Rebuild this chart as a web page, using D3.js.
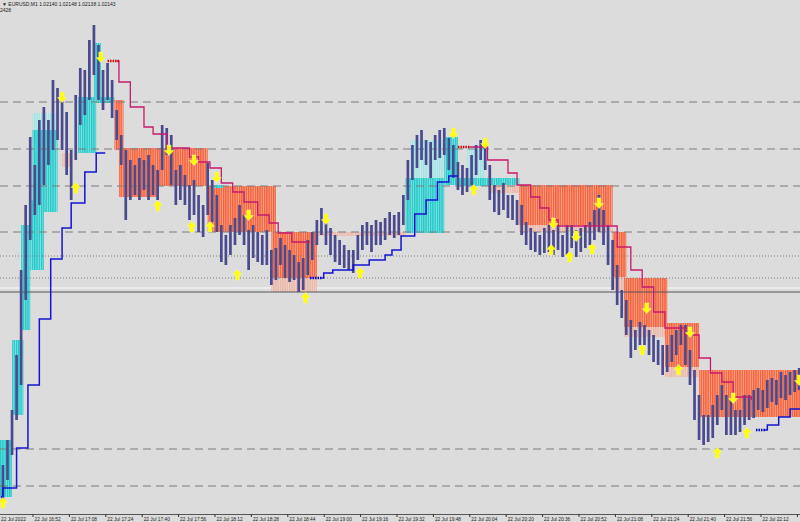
<!DOCTYPE html>
<html>
<head>
<meta charset="utf-8">
<script src="https://cdn.jsdelivr.net/npm/d3@7"></script>
<style>
body { margin: 0; background: #dcdcdc; }
svg { display: block; font-family: "Liberation Sans", Arial, sans-serif; }
</style>
</head>
<body>
<svg id="chart" width="800" height="522"></svg>
<script>
// EURUSD M1, 22 Jul 2022 -- bars shown every 2 minutes
const barStart = "16:39";
const barHigh = [
1.02063,1.02088,1.02118,1.02173,1.02258,1.02323,1.02391,1.02363,1.02408,1.02421,
1.02408,1.02448,1.02440,1.02433,1.02416,1.02378,1.02433,1.02460,1.02458,1.02488,
1.02503,1.02483,1.02458,1.02465,1.02448,1.02418,1.02393,1.02378,1.02368,1.02363,
1.02370,1.02368,1.02373,1.02363,1.02358,1.02403,1.02400,1.02393,1.02358,1.02363,
1.02353,1.02343,1.02348,1.02333,1.02323,1.02365,1.02348,1.02333,1.02303,1.02293,
1.02303,1.02310,1.02323,1.02313,1.02298,1.02303,1.02296,1.02293,1.02298,1.02278,
1.02280,1.02290,1.02283,1.02278,1.02273,1.02266,1.02270,1.02288,1.02296,1.02308,
1.02320,1.02313,1.02300,1.02293,1.02288,1.02283,1.02278,1.02278,1.02293,1.02303,
1.02306,1.02303,1.02308,1.02306,1.02310,1.02316,1.02313,1.02316,1.02333,1.02368,
1.02383,1.02393,1.02398,1.02388,1.02386,1.02393,1.02398,1.02400,1.02390,1.02383,
1.02366,1.02363,1.02360,1.02373,1.02383,1.02388,1.02385,1.02363,1.02343,1.02338,
1.02345,1.02333,1.02333,1.02328,1.02323,1.02306,1.02300,1.02296,1.02293,1.02300,
1.02303,1.02298,1.02303,1.02293,1.02303,1.02303,1.02298,1.02300,1.02303,1.02306,
1.02318,1.02333,1.02318,1.02303,1.02288,1.02263,1.02238,1.02228,1.02208,1.02198,
1.02206,1.02203,1.02198,1.02193,1.02188,1.02183,1.02183,1.02193,1.02198,1.02203,
1.02203,1.02178,1.02158,1.02133,1.02113,1.02113,1.02123,1.02133,1.02143,1.02133,
1.02128,1.02118,1.02118,1.02133,1.02133,1.02138,1.02140,1.02138,1.02148,1.02150,
1.02148,1.02156,1.02153,1.02156,1.02158,1.02160];
const barLow = [
1.02028,1.02048,1.02073,1.02108,1.02143,1.02228,1.02288,1.02313,1.02323,1.02343,
1.02363,1.02378,1.02388,1.02378,1.02353,1.02328,1.02368,1.02403,1.02413,1.02428,
1.02453,1.02428,1.02418,1.02428,1.02410,1.02388,1.02363,1.02308,1.02328,1.02333,
1.02328,1.02338,1.02328,1.02333,1.02328,1.02358,1.02373,1.02343,1.02323,1.02328,
1.02323,1.02308,1.02313,1.02296,1.02291,1.02313,1.02306,1.02296,1.02266,1.02263,
1.02273,1.02283,1.02293,1.02283,1.02258,1.02270,1.02266,1.02263,1.02263,1.02243,
1.02248,1.02263,1.02250,1.02246,1.02248,1.02236,1.02238,1.02253,1.02268,1.02283,
1.02293,1.02283,1.02273,1.02266,1.02263,1.02260,1.02258,1.02255,1.02268,1.02278,
1.02283,1.02276,1.02283,1.02283,1.02288,1.02293,1.02290,1.02293,1.02303,1.02328,
1.02348,1.02360,1.02368,1.02363,1.02350,1.02368,1.02370,1.02373,1.02358,1.02350,
1.02338,1.02333,1.02336,1.02343,1.02353,1.02368,1.02358,1.02328,1.02316,1.02313,
1.02318,1.02310,1.02308,1.02303,1.02293,1.02283,1.02278,1.02276,1.02273,1.02275,
1.02276,1.02273,1.02278,1.02271,1.02273,1.02280,1.02271,1.02276,1.02280,1.02283,
1.02288,1.02296,1.02283,1.02263,1.02238,1.02223,1.02210,1.02193,1.02170,1.02178,
1.02183,1.02183,1.02173,1.02166,1.02163,1.02153,1.02156,1.02166,1.02173,1.02183,
1.02163,1.02143,1.02108,1.02088,1.02083,1.02086,1.02090,1.02103,1.02118,1.02093,
1.02093,1.02093,1.02096,1.02103,1.02108,1.02110,1.02118,1.02116,1.02120,1.02126,
1.02123,1.02130,1.02128,1.02133,1.02136,1.02138];

const tickTimes = ["16:36","16:52","17:08","17:24","17:40","17:56","18:12","18:28","18:44","19:00","19:16","19:32",
  "19:48","20:04","20:20","20:36","20:52","21:08","21:24","21:40","21:56","22:12","22:28"];
// last tick sits on the right edge, its label is off the picture
const tickLabels = tickTimes.map((t, i) => i == 0 ? "22 Jul 2022" : i == tickTimes.length - 1 ? "" : "22 Jul " + t);

const dashedLevels = [1.02426, 1.02379, 1.02342, 1.02296, 1.02079, 1.02042];
const dottedLevels = [1.02272, 1.02250];
const solidLevel = 1.02236;
const lightLevel = 1.02240;

// boxes: from, to, top, bottom, kind
const boxes = [
  ["16:37","16:43",1.02088,1.02031,"up"],
  ["16:43","16:48",1.02188,1.02113,"up"],
  ["16:47","16:51",1.02303,1.02198,"up"],
  ["16:51","16:57",1.02328,1.02258,"up"],
  ["16:52","17:03",1.02398,1.02316,"up"],
  ["16:52","17:03",1.02415,1.02398,"upPale"],
  ["17:05","17:09",1.02375,1.02361,"downPale"],
  ["17:12","17:20",1.02431,1.02375,"up"],
  ["17:20","17:28",1.02431,1.02425,"up"],
  ["17:19","17:22",1.02485,1.02431,"up"],
  ["17:28","17:32",1.02428,1.02378,"down"],
  ["17:30","18:09",1.02380,1.02342,"down"],
  ["17:30","17:47",1.02342,1.02331,"down"],
  ["18:09","18:39",1.02342,1.02296,"down"],
  ["18:11","18:16",1.02343,1.02340,"up"],
  ["18:37","18:57",1.02296,1.02250,"down"],
  ["18:37","18:57",1.02250,1.02236,"downPale"],
  ["18:57","19:36",1.02296,1.02292,"downPale"],
  ["19:36","19:53",1.02350,1.02295,"up"],
  ["19:38","19:53",1.02388,1.02350,"upPale"],
  ["19:53","19:59",1.02391,1.02343,"up"],
  ["19:59","20:26",1.02350,1.02342,"up"],
  ["20:03","20:11",1.02381,1.02350,"upPale"],
  ["20:13","20:26",1.02343,1.02335,"downPale"],
  ["20:26","21:07",1.02343,1.02303,"down"],
  ["20:26","21:07",1.02303,1.02296,"downPale"],
  ["21:07","21:13",1.02296,1.02251,"down"],
  ["21:07","21:13",1.02251,1.02238,"downPale"],
  ["21:12","21:31",1.02250,1.02201,"down"],
  ["21:12","21:31",1.02201,1.02191,"downPale"],
  ["21:30","21:45",1.02205,1.02161,"down"],
  ["21:30","21:45",1.02161,1.02151,"downPale"],
  ["21:45","22:31",1.02158,1.02111,"down"]
];

// trailing stop lines (time, price) -- value holds until next point
const stopDown1 = [["17:29",1.02467],["17:30",1.02446],["17:35",1.02421],["17:41",1.02401],["17:45",1.02394],
  ["17:51",1.02380],["18:01",1.02371],["18:05",1.02366],["18:10",1.02360],["18:15",1.02345],["18:20",1.02336],
  ["18:25",1.02326],["18:31",1.02313],["18:36",1.02305],["18:40",1.02295],["18:46",1.02286],["18:54",1.02286]];
const stopDown2 = [["20:04",1.02381],["20:12",1.02368],["20:21",1.02355],["20:25",1.02343],["20:31",1.02331],
  ["20:35",1.02320],["20:39",1.02308],["20:43",1.02302],["21:09",1.02281],["21:15",1.02258],["21:20",1.02241],
  ["21:25",1.02216],["21:30",1.02200],["21:39",1.02193],["21:45",1.02170],["21:50",1.02155],["21:55",1.02146],
  ["22:00",1.02131],["22:08",1.02128]];
const stopUp1 = [["16:38",1.02031],["16:39",1.02040],["16:45",1.02080],["16:50",1.02143],["16:55",1.02209],
  ["17:00",1.02269],["17:05",1.02300],["17:09",1.02325],["17:15",1.02356],["17:20",1.02375],["17:24",1.02375]];
const stopUp2 = [["18:59",1.02250],["19:00",1.02255],["19:04",1.02258],["19:13",1.02263],["19:20",1.02268],
  ["19:27",1.02273],["19:30",1.02278],["19:34",1.02292],["19:40",1.02314],["19:45",1.02328],["19:50",1.02346],
  ["19:55",1.02352],["19:59",1.02352]];
const stopUp3 = [["22:14",1.02098],["22:15",1.02103],["22:20",1.02111],["22:25",1.02119],["22:31",1.02119]];
const stopStartDown = [[["17:25",1.02467],["17:30",1.02467]], [["19:59",1.02381],["20:04",1.02381]]];
const stopStartUp = [[["18:54",1.02250],["18:59",1.02250]], [["22:10",1.02098],["22:14",1.02098]]];

const arrowsUp = [["16:39",1.02025],["17:11",1.02340],["17:47",1.02322],["18:02",1.02301],["18:10",1.02301],
  ["18:22",1.02253],["18:52",1.02230],["19:16",1.02255],["20:06",1.02338],["20:40",1.02278],["20:48",1.02271],
  ["20:58",1.02279],["21:20",1.02178],["21:36",1.02158],["21:53",1.02075],["22:06",1.02095]];
const arrowsDown = [["17:05",1.02431],["17:22",1.02471],["17:52",1.02378],["18:03",1.02368],["18:13",1.02351],
  ["18:27",1.02313],["19:01",1.02309],["19:57",1.02395],["20:11",1.02385],["20:41",1.02305],["20:51",1.02292],
  ["21:01",1.02325],["21:22",1.02220],["21:41",1.02196],["22:00",1.02130],["22:29",1.02148]];

const boxColors = {
  up: ["#1ccaca", "#86dede"],
  upPale: ["#a0e2e2", "#cfeaea"],
  down: ["#f4603c", "#f7a184"],
  downPale: ["#f0b4a4", "#e4d4ce"]
};

const parseT = d3.timeParse("%H:%M");
const svg = d3.select("#chart");
const W = 800, H = 522;

const x = d3.scaleTime()
  .domain([parseT(tickTimes[0]), parseT(tickTimes[tickTimes.length - 1])])
  .range([-3.9, 796.9]);
const y = d3.scaleLinear().domain([1.02006, 1.02528]).range([H, 0]);

svg.append("rect").attr("width", W).attr("height", H).attr("fill", "#dcdcdc");

const defs = svg.append("defs");
Object.entries(boxColors).forEach(([k, c]) => {
  const p = defs.append("pattern").attr("id", "p-" + k)
    .attr("patternUnits", "userSpaceOnUse").attr("width", 2.275).attr("height", 4);
  p.append("rect").attr("width", 2.275).attr("height", 4).attr("fill", c[1]);
  p.append("rect").attr("width", 1.3).attr("height", 4).attr("fill", c[0]);
});

svg.append("line").attr("x1", 0).attr("x2", W).attr("y1", y(lightLevel)).attr("y2", y(lightLevel))
  .attr("stroke", "#ebebeb").attr("stroke-width", 2);

// boxes
svg.append("g").selectAll("rect").data(boxes).join("rect")
  .attr("x", d => x(parseT(d[0])))
  .attr("width", d => x(parseT(d[1])) - x(parseT(d[0])))
  .attr("y", d => y(d[2]))
  .attr("height", d => y(d[3]) - y(d[2]))
  .attr("fill", d => "url(#p-" + d[4] + ")");

// horizontal levels
const lv = svg.append("g");
lv.selectAll(".dash").data(dashedLevels).join("line")
  .attr("x1", 0).attr("x2", W).attr("y1", d => y(d)).attr("y2", d => y(d))
  .attr("stroke", "#7c7c7c").attr("stroke-dasharray", "8,5");
lv.selectAll(".dot").data(dottedLevels).join("line")
  .attr("x1", 0).attr("x2", W).attr("y1", d => y(d)).attr("y2", d => y(d))
  .attr("stroke", "#7c7c7c").attr("stroke-dasharray", "1,2");
lv.append("line").attr("x1", 0).attr("x2", W).attr("y1", y(solidLevel)).attr("y2", y(solidLevel))
  .attr("stroke", "#555555");

// bars
const barTimes = barHigh.map((d, i) => d3.timeMinute.offset(parseT(barStart), 2 * i));
svg.append("g").selectAll("line").data(barHigh).join("line")
  .attr("x1", (d, i) => x(barTimes[i])).attr("x2", (d, i) => x(barTimes[i]))
  .attr("y1", d => y(d)).attr("y2", (d, i) => y(barLow[i]))
  .attr("stroke", "#4a4a8e").attr("stroke-width", 2.7);

// stop lines
const step = d3.line().curve(d3.curveStepAfter)
  .x(d => x(parseT(d[0]))).y(d => y(d[1]));
const ln = svg.append("g").attr("fill", "none");
[stopDown1, stopDown2].forEach(s => ln.append("path").attr("d", step(s))
  .attr("stroke", "#c81a6c").attr("stroke-width", 1.3));
[stopUp1, stopUp2, stopUp3].forEach(s => ln.append("path").attr("d", step(s))
  .attr("stroke", "#1414d2").attr("stroke-width", 1.5));
stopStartDown.forEach(s => ln.append("path").attr("d", step(s))
  .attr("stroke", "#e00000").attr("stroke-width", 2.5).attr("stroke-dasharray", "1.5,1"));
stopStartUp.forEach(s => ln.append("path").attr("d", step(s))
  .attr("stroke", "#0000cc").attr("stroke-width", 2.5).attr("stroke-dasharray", "1.5,1"));

// signal arrows
const arrowPath = "M0,-5.5L4.6,-0.6L1.9,-0.6L1.9,5L-1.9,5L-1.9,-0.6L-4.6,-0.6Z";
const ar = svg.append("g").attr("fill", "#ffff00").attr("stroke", "#f4f48a").attr("stroke-width", 0.6);
ar.selectAll(".up").data(arrowsUp).join("path")
  .attr("d", arrowPath)
  .attr("transform", d => `translate(${x(parseT(d[0]))},${y(d[1])})`);
ar.selectAll(".down").data(arrowsDown).join("path")
  .attr("d", arrowPath)
  .attr("transform", d => `translate(${x(parseT(d[0]))},${y(d[1])}) rotate(180)`);

// time axis
svg.append("line").attr("x1", 0).attr("x2", W).attr("y1", 514.5).attr("y2", 514.5).attr("stroke", "#555");
const ax = svg.append("g").attr("transform", "translate(0,514)")
  .call(d3.axisBottom(x).tickValues(tickTimes.map(parseT)).tickSize(3)
    .tickFormat((d, i) => tickLabels[i]));
ax.select(".domain").remove();
ax.selectAll("line").attr("stroke", "#333");
ax.selectAll("text").attr("text-anchor", "start").attr("x", (d, i) => i == 0 ? 4.4 : 1.5).attr("y", 3.3)
  .attr("fill", "#222").attr("font-size", 4.8).attr("font-family", "Liberation Sans, Arial, sans-serif");

// header
svg.append("text").attr("x", 2).attr("y", 6).attr("font-size", 5).attr("fill", "#222")
  .text("▼ EURUSD,M1  1.02140 1.02148 1.02138 1.02143");
svg.append("text").attr("x", 0).attr("y", 11.5).attr("font-size", 5).attr("fill", "#222")
  .text("2428");
</script>
</body>
</html>
